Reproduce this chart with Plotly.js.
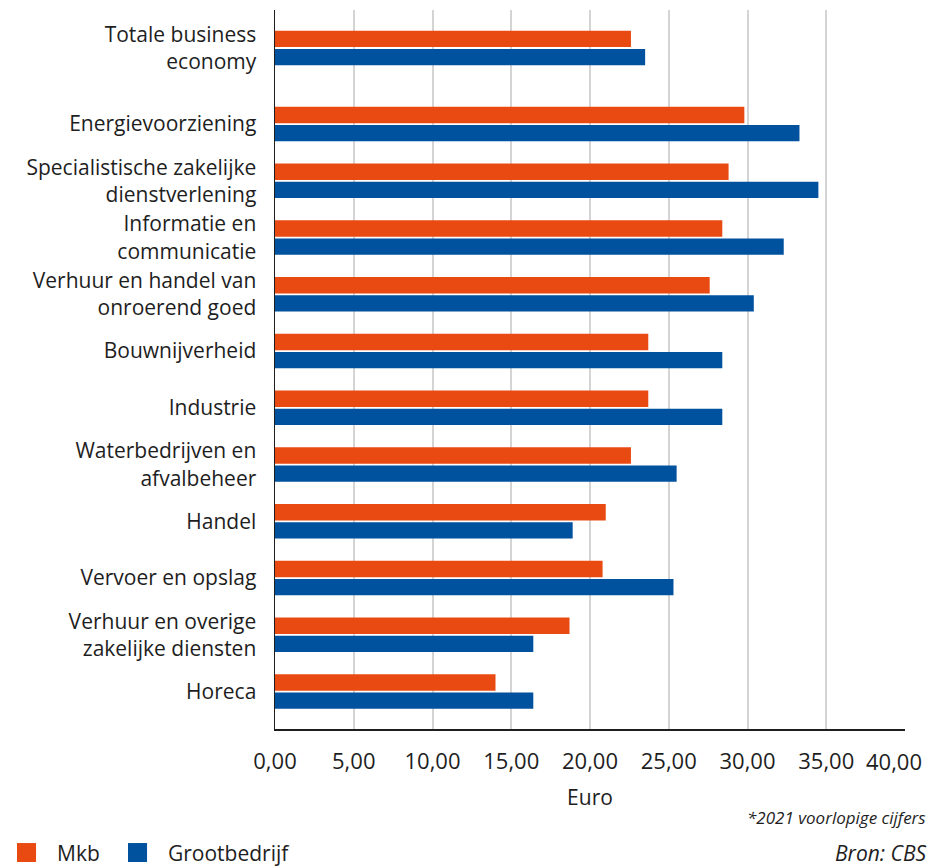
<!DOCTYPE html>
<html>
<head>
<meta charset="utf-8">
<script src="https://cdn.plot.ly/plotly-3.0.1.min.js"></script>
<style>html,body{margin:0;padding:0;background:#fff}#chart{width:931px;height:867px}</style>
</head>
<body>
<div id="chart"></div>
<script>
const categories = [
  "Totale business<br>economy",
  "Energievoorziening",
  "Specialistische zakelijke<br>dienstverlening",
  "Informatie en<br>communicatie",
  "Verhuur en handel van<br>onroerend goed",
  "Bouwnijverheid",
  "Industrie",
  "Waterbedrijven en<br>afvalbeheer",
  "Handel",
  "Vervoer en opslag",
  "Verhuur en overige<br>zakelijke diensten",
  "Horeca"
];
const mkb = [22.6, 29.8, 28.8, 28.4, 27.6, 23.7, 23.7, 22.6, 21.0, 20.8, 18.7, 14.0];
const grootbedrijf = [23.5, 33.3, 34.5, 32.3, 30.4, 28.4, 28.4, 25.5, 18.9, 25.3, 16.4, 16.4];
const seriesNames = ["Mkb", "Grootbedrijf"];
const seriesColors = ['#e94a12', '#00519e'];
const xTicks = [0, 5, 10, 15, 20, 25, 30, 35, 40];

// row positions: extra space after the total row
const pos = categories.map((c, i) => i + (i > 0 ? 0.34 : 0));

// tick labels in Dutch notation; the last one is drawn right-aligned so it stays inside the page
const fmt = v => v.toFixed(2).replace('.', ',');
const lastTick = xTicks[xTicks.length - 1];
const xTickText = xTicks.map((v, i) => i === xTicks.length - 1 ? '' : fmt(v));

const font = "'Open Sans', 'Noto Sans', sans-serif";
const txt = '#1e1e1e';
const traces = seriesNames.map((n, k) => ({
  type: 'bar', orientation: 'h', name: n, x: k === 0 ? mkb : grootbedrijf, y: pos,
  marker: {color: seriesColors[k]}, showlegend: false
}));

// manual legend (bigger swatches than Plotly's built-in legend)
const legendX = [-0.4095, -0.2333];
const shapes = seriesNames.map((n, k) => ({
  type: 'rect', xref: 'paper', yref: 'paper',
  x0: legendX[k], x1: legendX[k] + 0.0302, y0: -0.185, y1: -0.1586,
  fillcolor: seriesColors[k], line: {width: 0}
}));
const legendAnn = seriesNames.map((n, k) => ({
  xref: 'paper', yref: 'paper', x: legendX[k] + 0.06, y: -0.1725,
  xanchor: 'left', yanchor: 'middle', text: n, showarrow: false,
  font: {size: 21, color: txt}
}));

const layout = {
  width: 931, height: 867,
  margin: {l: 275, r: 26, t: 10, b: 138},
  barmode: 'group', bargap: 0.36, bargroupgap: 0.1,
  separators: ',.',
  font: {family: font, size: 21, color: txt},
  plot_bgcolor: '#fff', paper_bgcolor: '#fff',
  xaxis: {
    range: [0, 40], tickvals: xTicks, ticktext: xTickText,
    showgrid: true, gridcolor: '#d4d4d4', gridwidth: 2,
    zeroline: false, showline: true, linecolor: '#1e1e1e', linewidth: 1.5,
    ticks: '', ticklabelstandoff: 12, tickfont: {size: 22},
    title: {text: 'Euro', standoff: 16, font: {size: 21}}
  },
  yaxis: {
    range: [pos[pos.length - 1] + 0.66, -0.67],
    tickvals: pos, ticktext: categories,
    showgrid: false, zeroline: false, showline: true, linecolor: '#1e1e1e', linewidth: 1.5,
    ticks: '', ticklabelstandoff: 13, tickfont: {size: 21}
  },
  showlegend: false,
  shapes: shapes,
  annotations: legendAnn.concat([
    {xref: 'x', yref: 'paper', x: lastTick, y: 0, xanchor: 'right', yanchor: 'middle',
     xshift: 19, yshift: -32, text: fmt(lastTick), showarrow: false,
     font: {size: 22, color: txt}},
    {xref: 'paper', yref: 'paper', x: 1.036, y: -0.123, xanchor: 'right', yanchor: 'middle',
     text: '<i>*2021 voorlopige cijfers</i>', showarrow: false, font: {size: 17, color: txt}},
    {xref: 'paper', yref: 'paper', x: 1.036, y: -0.173, xanchor: 'right', yanchor: 'middle',
     text: '<i>Bron: CBS</i>', showarrow: false, font: {size: 21, color: txt}}
  ])
};
Plotly.newPlot('chart', traces, layout, {displayModeBar: false, staticPlot: true});
</script>
</body>
</html>
